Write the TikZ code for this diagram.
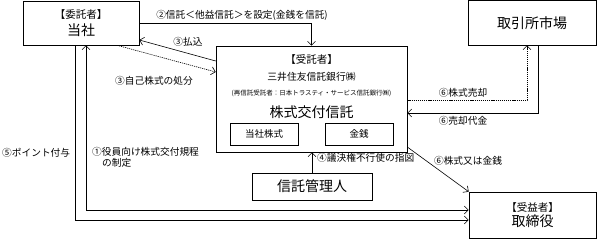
\documentclass[tikz,border=0pt]{standalone}
\usepackage{fontspec}
\setmainfont{Noto Sans CJK JP}
\usetikzlibrary{arrows.meta}
\newcommand{\fs}[1]{\fontsize{#1}{#1}\selectfont}
\begin{document}
\begin{tikzpicture}[x=1pt,y=-1pt,
  box/.style={draw, line width=0.6pt, inner sep=0pt, align=center},
  conn/.style={line width=0.6pt, -{Straight Barb[length=4pt,width=8pt]}},
  lbl/.style={font=\fs{9.7}, inner sep=0pt, align=left},
  dots/.style={dash pattern=on 1.2pt off 0.9pt}
]
\useasboundingbox (0,0) rectangle (597,239);

% boxes
\node[box, minimum width=116pt, minimum height=44pt] (itaku) at (81,23)
  {{\fs{10.5}【委託者】}\\[3pt]{\fs{14}当社}};
\node[box, minimum width=128pt, minimum height=44.5pt] (torihiki) at (532,22.75)
  {\fs{14}取引所市場};
\node[box, minimum width=191pt, minimum height=106pt] (trustee) at (311.5,99) {};
\node[inner sep=0pt] (t1) at (311.5,60) {\fs{10.5}【受託者】};
\node[inner sep=0pt] (t2) at (311.5,77) {\fs{9.8}三井住友信託銀行㈱};
\node[inner sep=0pt] (t3) at (311.5,93) {\fs{6.5}(再信託受託者：日本トラスティ・サービス信託銀行㈱)};
\node[inner sep=0pt] (t4) at (311.5,112) {\fs{14}株式交付信託};
\node[box, minimum width=68pt, minimum height=22pt] (kabu) at (264,134) {\fs{9.5}当社株式};
\node[box, minimum width=68pt, minimum height=22pt] (kinsen) at (359,134) {\fs{9.5}金銭};
\node[box, minimum width=120pt, minimum height=27pt] (kanri) at (312,186.5) {\fs{14}信託管理人};
\node[box, minimum width=127pt, minimum height=46pt] (juek) at (532.5,215)
  {{\fs{10.5}【受益者】}\\[2pt]{\fs{14}取締役}};

% connectors
\draw[conn] (itaku.east) -| (trustee.north);
\draw[conn] (trustee.west |- 0,61) -- (itaku.east |- 0,40);
\draw[conn, dots] (itaku.south -| 117,0) -- (trustee.west |- 0,72);
\draw[conn] (itaku.south -| 75,0) |- (juek.west |- 0,220);
\draw[conn, {Straight Barb[length=4pt,width=8pt]}-{Straight Barb[length=4pt,width=8pt]}] (itaku.south -| 86,0) |- (juek.west |- 0,210);
\draw[conn] (kanri.north) -- (kanri.north |- trustee.south);
\draw[conn] (trustee.east |- 0,147) -- (juek.north west);
\draw[conn, dots] (trustee.east |- 0,100) -| (torihiki.south -| 527,0);
\draw[conn] (torihiki.south -| 538,0) |- (trustee.east |- 0,113);

% labels
\node[lbl] (l2) at (242,15) {②信託＜他益信託＞を設定(金銭を信託)};
\node[lbl] (l3a) at (188,42) {③払込};
\node[lbl] (l3b) at (154,81) {③自己株式の処分};
\node[lbl, anchor=west] (l5) at (2,153) {⑤ポイント付与};
\node[lbl, anchor=north west, align=left] (l1) at (92,147) {①役員向け株式交付規程\\[1pt]\hspace*{10pt}の制定};
\node[lbl, anchor=west] (l4) at (317,158) {④議決権不行使の指図};
\node[lbl] (l6c) at (468,161) {⑥株式又は金銭};
\node[lbl] (l6a) at (463,93) {⑥株式売却};
\node[lbl] (l6b) at (463,121) {⑥売却代金};
\end{tikzpicture}
\end{document}
